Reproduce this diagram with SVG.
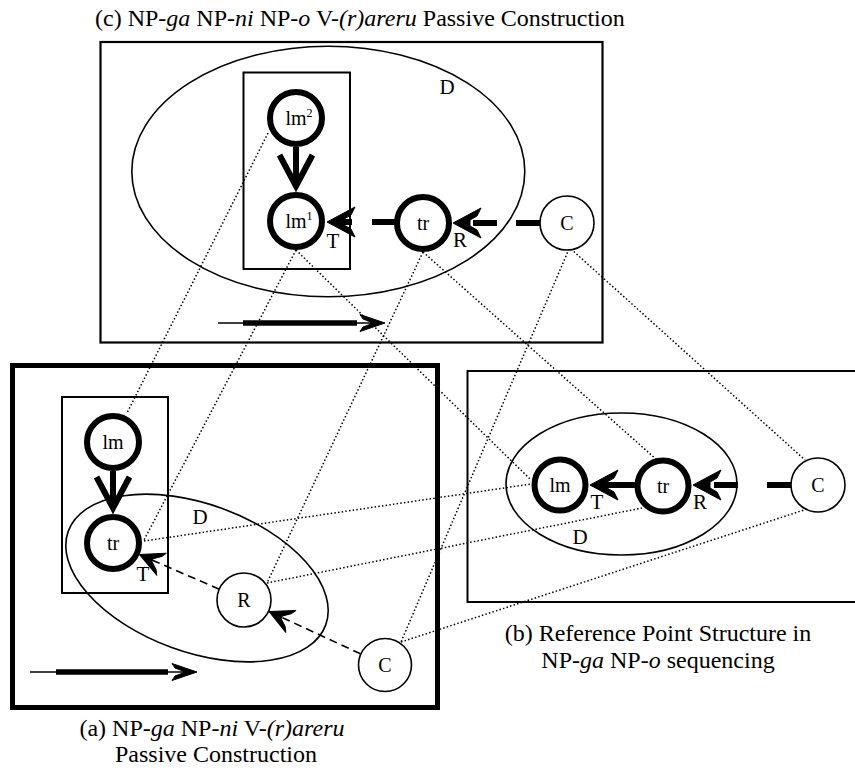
<svg xmlns="http://www.w3.org/2000/svg" width="855" height="775" viewBox="0 0 855 775">
<defs>
<style>
text{font-family:"Liberation Serif","Times New Roman",serif;fill:#000}
.cap{font-size:24px}
.lab{font-size:21px}
.nl{font-size:20px;text-anchor:middle}
.frame{fill:none;stroke:#000}
.thick{fill:#fff;stroke:#000;stroke-width:6}
.thin{fill:#fff;stroke:#000;stroke-width:1.6}
.dot{fill:none;stroke:#000;stroke-width:1.5;stroke-dasharray:1.5 2.2}
.heavy{fill:none;stroke:#000;stroke-width:6}
.dash6{fill:none;stroke:#000;stroke-width:6}
.dash1{fill:none;stroke:#000;stroke-width:1.6;stroke-dasharray:8 5}
.tl{fill:none;stroke:#000;stroke-width:1.5}
.tlk{fill:none;stroke:#000;stroke-width:5.5}
.head{fill:#000;stroke:#000;stroke-width:1;stroke-linejoin:round}
.vee{fill:none;stroke:#000;stroke-width:6}
</style>
<path id="hL" class="head" d="M-14,0 L14,-15 L10,-7 L3,-3 L3,3 L10,7 L14,15 Z"/>
<path id="hM" class="head" d="M-14,0 L10,-12 L7,-7 L0,-1.5 L0,1.5 L7,7 L10,12 Z"/>
<path id="hS" class="head" d="M14,0 L-11,-8.5 L-8,-4 L0,-1 L0,1 L-8,4 L-11,8.5 Z"/>
<path id="hV" class="vee" d="M-16.5,-31 L0,0 L16.5,-31"/>
</defs>
<rect width="855" height="775" fill="#fff"/>

<!-- frames and domains -->
<g id="frame-c">
<rect class="frame" x="100.5" y="42" width="502" height="300.5" stroke-width="2.2"/>
<ellipse class="frame" cx="328.3" cy="171.5" rx="196.5" ry="125.3" stroke-width="1.6"/>
<rect class="frame" x="243.5" y="72.5" width="106.5" height="196.5" stroke-width="2"/>
<text class="lab" x="447" y="94" text-anchor="middle">D</text>
<text class="cap" x="95" y="26">(c) NP-<tspan font-style="italic">ga</tspan> NP-<tspan font-style="italic">ni</tspan> NP-<tspan font-style="italic">o</tspan> V-<tspan font-style="italic">(r)areru</tspan> Passive Construction</text>
</g>
<g id="frame-a">
<rect class="frame" x="12.5" y="365.5" width="425" height="342" stroke-width="5"/>
<rect class="frame" x="62" y="397" width="106" height="196" stroke-width="2"/>
<ellipse class="frame" cx="197" cy="578" rx="137" ry="74" transform="rotate(20 197 578)" stroke-width="1.6"/>
<text class="lab" x="200" y="524" text-anchor="middle">D</text>
<text class="cap" x="212" y="736" text-anchor="middle">(a) NP-<tspan font-style="italic">ga</tspan> NP-<tspan font-style="italic">ni</tspan> V-<tspan font-style="italic">(r)areru</tspan></text>
<text class="cap" x="216" y="762" text-anchor="middle">Passive Construction</text>
</g>
<g id="frame-b">
<rect class="frame" x="467.5" y="371" width="400" height="231" stroke-width="2"/>
<ellipse class="frame" cx="621.5" cy="484" rx="115.5" ry="71" stroke-width="1.6"/>
<text class="lab" x="580" y="544" text-anchor="middle">D</text>
<text class="cap" x="658" y="641" text-anchor="middle">(b) Reference Point Structure in</text>
<text class="cap" x="658" y="668" text-anchor="middle">NP-<tspan font-style="italic">ga</tspan> NP-<tspan font-style="italic">o</tspan> sequencing</text>
</g>

<!-- connectors -->
<g id="connectors">
<!-- correspondence lines -->
<line class="dot" x1="268" y1="133" x2="127" y2="413"/>
<line class="dot" x1="296" y1="250" x2="144" y2="540"/>
<line class="dot" x1="296" y1="250" x2="531" y2="480"/>
<line class="dot" x1="423" y1="252" x2="267" y2="583"/>
<line class="dot" x1="423" y1="252" x2="657" y2="460"/>
<line class="dot" x1="569" y1="249" x2="401" y2="642"/>
<line class="dot" x1="571" y1="249" x2="805" y2="460"/>
<line class="dot" x1="144" y1="541" x2="531" y2="484"/>
<line class="dot" x1="267" y1="583" x2="642" y2="508"/>
<line class="dot" x1="401" y1="642" x2="804" y2="510"/>
<!-- (c) arrows -->
<line class="heavy" x1="296" y1="147" x2="296" y2="186"/>
<use href="#hV" transform="translate(296,186)"/>
<line class="dash6" x1="396" y1="222" x2="341" y2="222" stroke-dasharray="24 20"/>
<use href="#hL" transform="translate(341,222)"/>
<line class="dash6" x1="540" y1="223" x2="467" y2="223" stroke-dasharray="24 19"/>
<use href="#hL" transform="translate(467,223)"/>
<!-- (c) timeline -->
<line class="tl" x1="218" y1="323" x2="371" y2="323"/>
<line class="tlk" x1="243" y1="323" x2="357" y2="323"/>
<use href="#hS" transform="translate(371,323)"/>
<!-- (a) arrows -->
<line class="heavy" x1="113" y1="471" x2="113" y2="508"/>
<use href="#hV" transform="translate(113,508)"/>
<line class="dash1" x1="219.2" y1="589.2" x2="152.4" y2="560.2"/>
<use href="#hM" transform="translate(152.4,560.2) rotate(23.5)"/>
<line class="dash1" x1="360.5" y1="653.8" x2="281.7" y2="617.3"/>
<use href="#hM" transform="translate(281.7,617.3) rotate(24.6)"/>
<!-- (a) timeline -->
<line class="tl" x1="30" y1="672" x2="183" y2="672"/>
<line class="tlk" x1="56" y1="672" x2="168" y2="672"/>
<use href="#hS" transform="translate(183,672)"/>
<!-- (b) arrows -->
<line class="heavy" x1="635" y1="485" x2="604" y2="485"/>
<use href="#hL" transform="translate(604,485)"/>
<line class="dash6" x1="791" y1="485" x2="707" y2="485" stroke-dasharray="24 29"/>
<use href="#hL" transform="translate(707,485)"/>
</g>

<!-- nodes (c) -->
<g id="c-lm2"><circle class="thick" cx="296" cy="118" r="26"/><text class="nl" x="299" y="125">lm<tspan font-size="12" dy="-8">2</tspan></text></g>
<g id="c-lm1"><circle class="thick" cx="296" cy="221" r="26"/><text class="nl" x="299" y="228">lm<tspan font-size="12" dy="-8">1</tspan></text><text class="lab" x="333" y="248" text-anchor="middle">T</text></g>
<g id="c-tr"><circle class="thick" cx="423" cy="223" r="26"/><text class="nl" x="423" y="230">tr</text><text class="lab" x="460" y="247" text-anchor="middle">R</text></g>
<g id="c-C"><circle class="thin" cx="567" cy="223" r="27"/><text class="nl" x="567" y="230">C</text></g>

<!-- nodes (a) -->
<g id="a-lm"><circle class="thick" cx="113" cy="442" r="26"/><text class="nl" x="113" y="449">lm</text></g>
<g id="a-tr"><circle class="thick" cx="113" cy="543" r="26"/><text class="nl" x="113" y="550">tr</text><text class="lab" x="143" y="581" text-anchor="middle">T</text></g>
<g id="a-R"><circle class="thin" cx="244" cy="600" r="27"/><text class="nl" x="244" y="607">R</text></g>
<g id="a-C"><circle class="thin" cx="385" cy="665" r="26.5"/><text class="nl" x="385" y="672">C</text></g>

<!-- nodes (b) -->
<g id="b-lm"><circle class="thick" cx="560" cy="485" r="25.5"/><text class="nl" x="560" y="492">lm</text><text class="lab" x="597" y="509" text-anchor="middle">T</text></g>
<g id="b-tr"><circle class="thick" cx="663" cy="486" r="25.5"/><text class="nl" x="663" y="493">tr</text><text class="lab" x="700" y="509" text-anchor="middle">R</text></g>
<g id="b-C"><circle class="thin" cx="818" cy="485" r="27"/><text class="nl" x="818" y="492">C</text></g>
</svg>
